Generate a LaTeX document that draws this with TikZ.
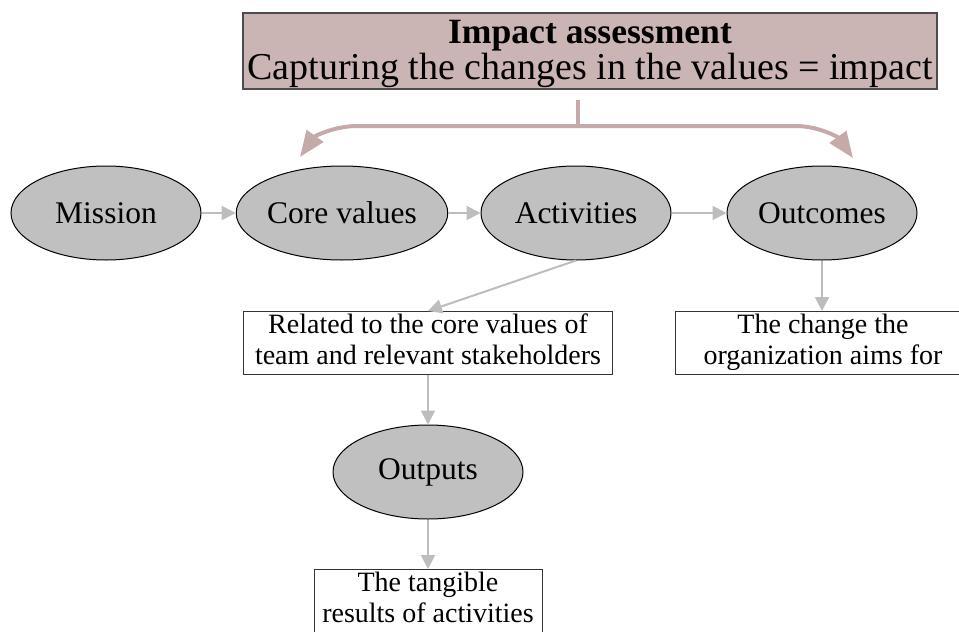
\documentclass[tikz,border=0pt]{standalone}
\usepackage{fontspec}
\setmainfont{Liberation Serif}
\usetikzlibrary{arrows.meta,shapes.geometric}

\definecolor{stepgray}{HTML}{C0C0C0}
\definecolor{linkgray}{HTML}{BDBDBD}
\definecolor{assessfill}{HTML}{CBB4B4}
\definecolor{assessline}{HTML}{C6A9A9}

\tikzset{
  stage/.style={ellipse, draw=black, fill=stepgray, line width=0.5pt,
    minimum width=95pt, minimum height=47pt, inner sep=0pt,
    font=\fontsize{15.75}{18}\selectfont},
  note/.style={rectangle, draw=black!80, fill=white, line width=0.5pt,
    minimum height=31.5pt, inner sep=0pt, align=center, text depth=3.5pt,
    font=\fontsize{14}{15.5}\selectfont},
  link/.style={draw=linkgray, line width=1pt,
    -{Triangle[length=7pt,width=7pt]}},
  reach/.style={draw=assessline, line width=2pt,
    -{Triangle[length=13pt,width=10pt]}}
}

\begin{document}
\begin{tikzpicture}[x=0.5pt,y=-0.5pt]
    \useasboundingbox (0,0) rectangle (959,632);

    % assessment header
    \node[rectangle, draw=black!70, fill=assessfill, line width=0.6pt,
      minimum width=347pt, minimum height=38pt, inner sep=0pt, align=center,
      text depth=1pt]
      (assess) at (590,51)
      {{\fontsize{17.8}{20}\selectfont\bfseries Impact assessment}\\
       {\fontsize{19}{20}\selectfont Capturing the changes in the values = impact}};

    % value chain
    \node[stage] (mission)  at (106,213) {Mission};
    \node[stage] (core)     at (342,213) {Core values};
    \node[stage] (activity) at (576,213) {Activities};
    \node[stage] (outcome)  at (822,213) {Outcomes};
    \node[stage] (output)   at (428,472) {Outputs};

    % explanations
    \node[note, minimum width=184.5pt] (related) at (428,343)
      {Related to the core values of\\team and relevant stakeholders};
    \node[note, minimum width=148pt] (change) at (823,343)
      {The change the\\organization aims for};
    \node[note, minimum width=114pt] (tangible) at (428,601)
      {The tangible\\results of activities};

    \foreach \a/\b in {mission/core, core/activity, activity/outcome}{
        \draw[link] (\a) -- (\b);
    }
    \draw[link] (activity.south) -- (related.north);
    \draw[link] (outcome.south) -- (outcome.south |- change.north);
    \draw[link] (related.south) -- (output.north);
    \draw[link] (output.south) -- (tangible.north);

    % bracket from the header
    \coordinate (split) at (578,126);
    \coordinate (leftend) at (300,157);
    \coordinate (rightend) at (853,158);
    \draw[draw=assessline, line width=2pt] ([yshift=-5pt]assess.south -| split) -- (split);
    \draw[reach] (split) -- (357,126) .. controls (335,126) and (315,136) .. (leftend);
    \draw[reach] (split) -- (796,126) .. controls (818,126) and (838,137) .. (rightend);
\end{tikzpicture}
\end{document}
